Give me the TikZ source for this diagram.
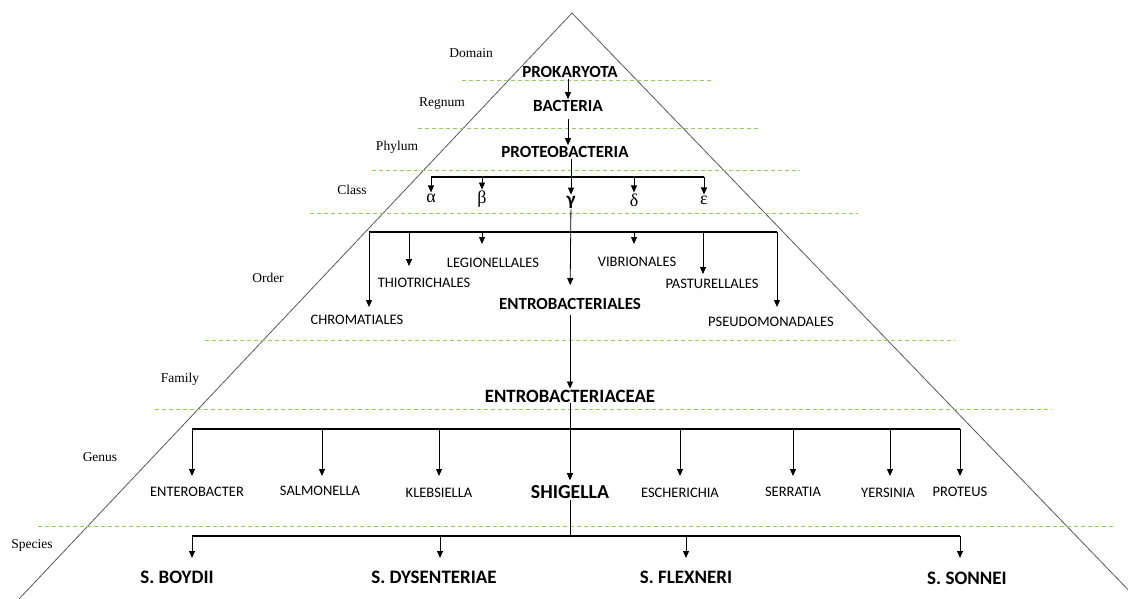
\documentclass[tikz,border=0pt]{standalone}
\usepackage{fontspec}
\setmainfont{Liberation Serif}
\newfontfamily\carl{Carlito}
\usetikzlibrary{arrows.meta}
\definecolor{dgreen}{RGB}{146,208,80}
\begin{document}
\begin{tikzpicture}[x=1pt,y=-1pt,
 rank/.style={font=\fontsize{13.5}{15}\selectfont, inner sep=0pt},
 head/.style={font=\carl\bfseries\fontsize{17}{19}\selectfont, inner sep=1pt},
 ordr/.style={font=\carl\fontsize{14.5}{16}\selectfont, inner sep=0pt},
 gnus/.style={font=\carl\fontsize{14.5}{16}\selectfont, inner sep=0pt},
 bighead/.style={font=\carl\bfseries\fontsize{18.8}{21}\selectfont, inner sep=1pt},
 spec/.style={font=\carl\bfseries\fontsize{19}{21}\selectfont, inner sep=0pt},
 greek/.style={font=\fontsize{18}{20}\selectfont, inner sep=1pt},
 arr/.style={draw=black, line width=0.8pt, -{Triangle[length=7pt,width=6pt]}},
 ln/.style={draw=black, line width=0.8pt},
 bus/.style={draw=black, line width=1.1pt},
 lvl/.style={draw=dgreen, line width=0.9pt, dash pattern=on 4pt off 3pt},
 side/.style={draw=black!65, line width=0.8pt}]
\useasboundingbox (0,0) rectangle (1128,599);
\fill[white] (0,0) rectangle (1128,599);

% pyramid
\coordinate (apex) at (572,13);
\coordinate (bl) at (19,599);
\coordinate (br) at (1137,599);
\begin{scope}
\clip (0,0) rectangle (1128,599);
\draw[side] (bl) -- (apex) -- (br);
\end{scope}

% level separators
\foreach \y/\a/\b in {80/462/713, 128/418/758, 170/372/800, 213/310/858, 340/205/955, 409/155/1052, 526/38/1115}
  \draw[lvl] (\a,\y) -- (\b,\y);

% rank labels
\node[rank] (lDom) at (471,53) {Domain};
\node[rank] (lReg) at (442,104) {Regnum};
\node[rank] (lPhy) at (397,147) {Phylum};
\node[rank] (lCla) at (352,190) {Class};
\node[rank] (lOrd) at (268,278) {Order};
\node[rank] (lFam) at (180,379) {Family};
\node[rank] (lGen) at (100,457) {Genus};
\node[rank] (lSpe) at (32,545) {Species};

% top chain
\node[head] (prok) at (570,72) {PROKARYOTA};
\node[head] (bact) at (568,106) {BACTERIA};
\node[head] (prot) at (565,152) {PROTEOBACTERIA};
\draw[arr] (prok.south -| bact) -- (bact);
\draw[arr, shorten <=6pt] (bact.south) -- (bact.south |- prot.north);

% class
\node[greek] (alpha) at (431,198) {α};
\node[greek] (beta) at (482,199) {β};
\node[greek, font=\carl\bfseries\fontsize{19}{21}\selectfont] (gamma) at (571,202) {γ};
\node[greek] (delta) at (634,200) {δ};
\node[greek] (eps) at (704,200) {ε};
\coordinate (cL) at (431,177);
\coordinate (cR) at (704,177);
\draw[bus] (cL) -- (cR);
\draw[arr] (prot.south -| gamma) -- (gamma);
\foreach \n in {alpha,beta,delta,eps}
  \draw[arr] (\n |- cL) -- (\n);

% order
\node[ordr] (chrom) at (357,320) {CHROMATIALES};
\node[ordr] (thio) at (424,283) {THIOTRICHALES};
\node[ordr] (legio) at (493,263) {LEGIONELLALES};
\node[bighead, font=\carl\bfseries\fontsize{17}{19}\selectfont] (entbl) at (570,304) {ENTROBACTERIALES};
\node[ordr] (vibrio) at (637,262) {VIBRIONALES};
\node[ordr] (pastu) at (712,284) {PASTURELLALES};
\node[ordr] (pseudo) at (771,322) {PSEUDOMONADALES};
\coordinate (oL) at (369,232);
\coordinate (oR) at (777,232);
\draw[bus] (oL) -- (oR);
\coordinate (tChrom) at (369,307);
\coordinate (tThio) at (409,266);
\coordinate (tLegio) at (482,244);
\coordinate (tVibrio) at (634,244);
\coordinate (tPastu) at (703,274);
\coordinate (tPseudo) at (777,307);
\foreach \t in {tChrom,tThio,tLegio,tVibrio,tPastu,tPseudo}
  \draw[arr] (\t |- oL) -- (\t);
\draw[arr, shorten >=12pt] (gamma) -- (entbl);

% family
\node[bighead] (entcae) at (570,396) {ENTROBACTERIACEAE};
\draw[arr, shorten <=4pt] (entbl) -- (entcae);

% genus
\node[bighead, font=\carl\bfseries\fontsize{19.8}{22}\selectfont] (shig) at (570,492) {SHIGELLA};
\node[gnus] (entero) at (197,492) {ENTEROBACTER};
\node[gnus] (salmo) at (320,491) {SALMONELLA};
\node[gnus] (klebs) at (439,493) {KLEBSIELLA};
\node[gnus] (esch) at (680,493) {ESCHERICHIA};
\node[gnus] (serr) at (793,492) {SERRATIA};
\node[gnus] (yers) at (888,493) {YERSINIA};
\node[gnus] (prot2) at (960,492) {PROTEUS};
\coordinate (gL) at (192,429);
\coordinate (gR) at (960,429);
\draw[bus] (gL) -- (gR);
\coordinate (tEntero) at (192,476);
\coordinate (tSalmo) at (322,476);
\coordinate (tKlebs) at (439,476);
\coordinate (tEsch) at (680,476);
\coordinate (tSerr) at (793,476);
\coordinate (tYers) at (890,476);
\coordinate (tProt) at (960,476);
\foreach \t in {tEntero,tSalmo,tKlebs,tEsch,tSerr,tYers,tProt}
  \draw[arr] (\t |- gL) -- (\t);
\draw[arr, shorten >=4pt] (entcae) -- (shig);

% species
\node[spec] (boyd) at (177,577) {S. BOYDII};
\node[spec] (dys) at (434,577) {S. DYSENTERIAE};
\node[spec] (flex) at (686,577) {S. FLEXNERI};
\node[spec] (sonn) at (967,578) {S. SONNEI};
\coordinate (sM) at (570,536);
\coordinate (sL) at (192,536);
\coordinate (sR) at (960,536);
\draw[ln] (shig) -- (sM);
\draw[bus] (sL) -- (sR);
\coordinate (tBoyd) at (192,558);
\coordinate (tDys) at (440,558);
\coordinate (tFlex) at (686,558);
\coordinate (tSonn) at (960,558);
\foreach \t in {tBoyd,tDys,tFlex,tSonn}
  \draw[arr] (\t |- sL) -- (\t);
\end{tikzpicture}
\end{document}
